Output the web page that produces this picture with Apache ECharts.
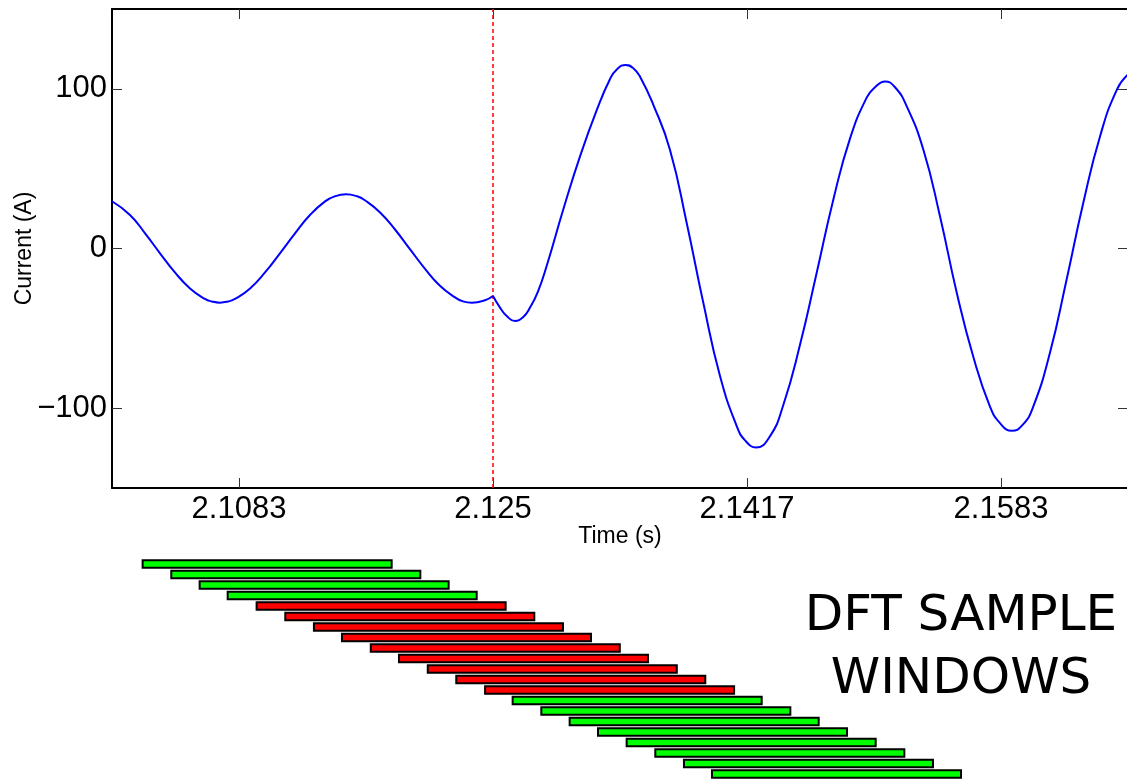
<!DOCTYPE html>
<html>
<head>
<meta charset="utf-8">
<script src="https://cdn.jsdelivr.net/npm/echarts@6/dist/echarts.min.js"></script>
<style>
  html, body { margin: 0; padding: 0; background: #fff; }
  #chart { width: 1127px; height: 779px; }
</style>
</head>
<body>
<div id="chart"></div>
<script>
// ---- data ----
const faultTime = 2.125;
const faultLineCurrent = [-150, 150];

// pre-fault current (s, A)
const preTime = [2.10000, 2.10118, 2.10217, 2.10315, 2.10413, 2.10512, 2.10610, 2.10656, 2.10709, 2.10761,
                 2.10807, 2.10906, 2.11004, 2.11102, 2.11201, 2.11299, 2.11398, 2.11463, 2.11535, 2.11608,
                 2.11660, 2.11759, 2.11857, 2.11955, 2.12054, 2.12152, 2.12251, 2.12303, 2.12362, 2.12448,
                 2.12500];
const preCurrent = [29.6, 21, 9.5, -3, -15, -25, -31.6, -33.2, -33.9, -33.2,
                    -31.6, -25, -15, -3, 9.5, 21, 29.5, 32.7, 33.9, 32.7,
                    30.2, 22.6, 11.9, -0.4, -12.7, -23.3, -30.6, -33.1, -33.9, -32.4,
                    -29.8];

// post-fault current (s, A)
const postTime = [2.12500, 2.12546, 2.12592, 2.12644, 2.12697, 2.12743, 2.12795, 2.12852, 2.12961, 2.13071,
                  2.13180, 2.13268, 2.13314, 2.13371, 2.13419, 2.13465, 2.13552, 2.13661, 2.13771, 2.13880,
                  2.13990, 2.14099, 2.14154, 2.14226, 2.14318, 2.14405, 2.14514, 2.14624, 2.14733, 2.14843,
                  2.14952, 2.15007, 2.15072, 2.15138, 2.15215, 2.15324, 2.15433, 2.15543, 2.15652, 2.15761,
                  2.15827, 2.15904, 2.15975, 2.16045, 2.16155, 2.16264, 2.16373, 2.16483, 2.16593, 2.16667];
const postCurrent = [-29.8, -37, -42.5, -45.4, -43, -37, -27, -11, 24.4, 57.7,
                     86.5, 106.2, 112.3, 115, 113.1, 107.6, 90, 61.9, 16, -34,
                     -80, -111.2, -120.2, -124.6, -117.5, -98, -60.5, -15.2, 30.6, 69,
                     94.5, 101, 104.6, 101, 89, 61.9, 20.2, -27.7, -68, -99,
                     -109.4, -114.2, -110.5, -99, -65.2, -19.4, 28.5, 70.2, 99.4, 109];

// axis ticks
const xTickValues = [2.1083333, 2.125, 2.1416667, 2.1583333];
const xTickLabels = ['2.1083', '2.125', '2.1417', '2.1583'];
const yTickValues = [-100, 0, 100];
const yTickLabels = ['\u2212100', '0', '100'];

// DFT sample windows: start time (s) of each window, and window length (s)
const windowStart = [2.10201, 2.10389, 2.10575, 2.10759, 2.10949, 2.11137, 2.11325, 2.11509, 2.11698, 2.11883,
                     2.12072, 2.12259, 2.12448, 2.12629, 2.12817, 2.13003, 2.13189, 2.13377, 2.13565, 2.13753,
                     2.13937];
const windowLength = 0.01634;

// ---- chart ----
const xMin = 2.1, xMax = 2.1666667;
const fontTick = '"Liberation Sans", Arial, sans-serif';

const preData = preTime.map((t, i) => [t, preCurrent[i]]);
const postData = postTime.map((t, i) => [t, postCurrent[i]]);
const faultData = faultLineCurrent.map(v => [faultTime, v]);
const winData = windowStart.map((s, i) => [s, s + windowLength, i,
  (s <= faultTime && s + windowLength >= faultTime) ? 1 : 0]);

const axisLineStyle = { color: '#000', width: 2 };
const tickStyle = { color: '#333', width: 1 };

const chart = echarts.init(document.getElementById('chart'), null, { renderer: 'canvas' });
chart.setOption({
  animation: false,
  backgroundColor: '#fff',
  grid: [
    { left: 112, top: 9, width: 1016, height: 479, containLabel: false, outerBoundsMode: 'none' },
    { left: 112, top: 558.75, width: 1016, height: 220.5, containLabel: false, outerBoundsMode: 'none' }
  ],
  xAxis: [
    {
      type: 'value', gridIndex: 0, min: xMin, max: xMax, position: 'bottom',
      name: 'Time (s)', nameLocation: 'middle', nameGap: 37, nameMoveOverlap: false,
      nameTextStyle: { fontFamily: fontTick, fontSize: 23, color: '#000' },
      axisLine: { show: true, onZero: false, lineStyle: axisLineStyle },
      axisTick: { show: true, inside: true, length: 10, lineStyle: tickStyle, customValues: xTickValues },
      axisLabel: {
        show: true, margin: 6, color: '#000', fontSize: 31, fontFamily: fontTick,
        customValues: xTickValues,
        formatter: v => {
          let best = 0;
          xTickValues.forEach((tv, i) => { if (Math.abs(tv - v) < Math.abs(xTickValues[best] - v)) best = i; });
          return xTickLabels[best];
        }
      },
      splitLine: { show: false }
    },
    {
      type: 'value', gridIndex: 0, min: xMin, max: xMax, position: 'top',
      axisLine: { show: true, onZero: false, lineStyle: axisLineStyle },
      axisTick: { show: true, inside: true, length: 10, lineStyle: tickStyle, customValues: xTickValues },
      axisLabel: { show: false },
      splitLine: { show: false }
    },
    {
      type: 'value', gridIndex: 1, min: xMin, max: xMax,
      show: false
    }
  ],
  yAxis: [
    {
      type: 'value', gridIndex: 0, min: -150, max: 150, position: 'left',
      name: 'Current (A)', nameLocation: 'middle', nameGap: 76, nameMoveOverlap: false,
      nameTextStyle: { fontFamily: fontTick, fontSize: 23, color: '#000' },
      axisLine: { show: true, onZero: false, lineStyle: axisLineStyle },
      axisTick: { show: true, inside: true, length: 10, lineStyle: tickStyle, customValues: yTickValues },
      axisLabel: {
        show: true, margin: 5, color: '#000', fontSize: 31, fontFamily: fontTick,
        customValues: yTickValues,
        formatter: v => yTickLabels[yTickValues.indexOf(Math.round(v))]
      },
      splitLine: { show: false }
    },
    {
      type: 'value', gridIndex: 0, min: -150, max: 150, position: 'right',
      axisLine: { show: true, onZero: false, lineStyle: axisLineStyle },
      axisTick: { show: true, inside: true, length: 10, lineStyle: tickStyle, customValues: yTickValues },
      axisLabel: { show: false },
      splitLine: { show: false }
    },
    {
      type: 'category', gridIndex: 1, inverse: true,
      data: windowStart.map((s, i) => String(i + 1)),
      show: false
    }
  ],
  series: [
    {
      type: 'line', xAxisIndex: 0, yAxisIndex: 0, data: faultData,
      showSymbol: false, symbol: 'none', silent: true,
      lineStyle: { color: '#ff0000', type: [4, 3], width: 1.5 }
    },
    {
      type: 'line', xAxisIndex: 0, yAxisIndex: 0, data: preData,
      smooth: true, showSymbol: false, symbol: 'none',
      lineStyle: { color: '#0000ff', width: 2 }
    },
    {
      type: 'line', xAxisIndex: 0, yAxisIndex: 0, data: postData,
      smooth: true, showSymbol: false, symbol: 'none',
      lineStyle: { color: '#0000ff', width: 2 }
    },
    {
      type: 'custom', xAxisIndex: 2, yAxisIndex: 2, data: winData,
      renderItem: (params, api) => {
        const p0 = api.coord([api.value(0), api.value(2)]);
        const p1 = api.coord([api.value(1), api.value(2)]);
        const h = api.size([0, 1])[1] * 0.7;
        return {
          type: 'rect',
          shape: { x: p0[0], y: p0[1] - h / 2, width: p1[0] - p0[0], height: h },
          style: { fill: api.value(3) ? '#ff0000' : '#00ff00', stroke: '#000', lineWidth: 2 }
        };
      }
    }
  ],
  graphic: [
    {
      type: 'text', x: 961, y: 586,
      style: {
        text: 'DFT SAMPLE\nWINDOWS', fill: '#000',
        font: '50px "DejaVu Sans", sans-serif',
        align: 'center', verticalAlign: 'top', lineHeight: 63
      }
    }
  ]
});
</script>
</body>
</html>
